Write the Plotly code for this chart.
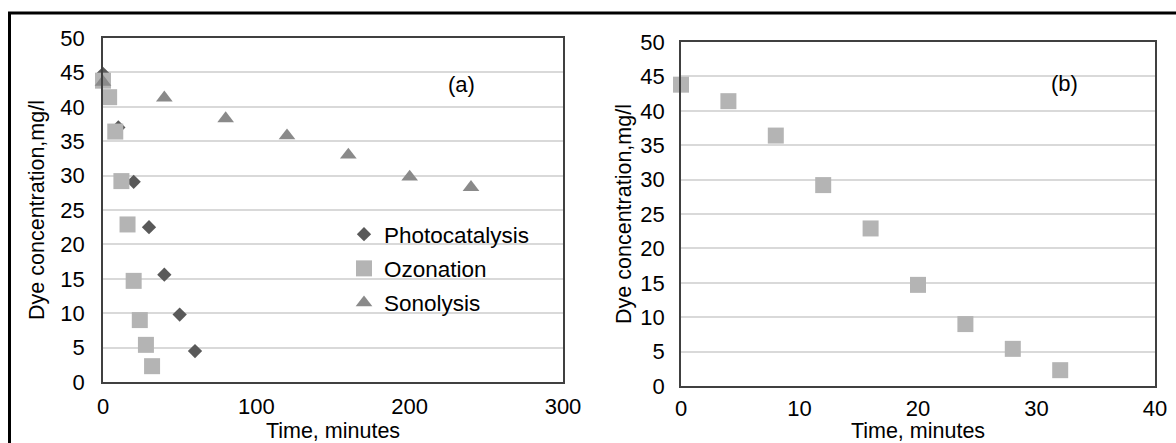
import plotly.graph_objects as go

# ---- data ----
photo_t = [0, 10, 20, 30, 40, 50, 60]
photo_c = [44.8, 37.0, 29.1, 22.5, 15.6, 9.8, 4.5]

ozone_t = [0, 4, 8, 12, 16, 20, 24, 28, 32]
ozone_c = [43.8, 41.4, 36.4, 29.2, 22.9, 14.7, 9.0, 5.4, 2.3]

sono_t = [0, 40, 80, 120, 160, 200, 240]
sono_c = [43.6, 41.3, 38.3, 35.8, 33.0, 29.8, 28.3]

series_names = ["Photocatalysis", "Ozonation", "Sonolysis"]
x_title = "Time, minutes"
y_title = "Dye concentration,mg/l"
panel_labels = ["(a)", "(b)"]

FONT = "Arial, Liberation Sans, sans-serif"
C_PHOTO = "#595959"
C_OZONE = "#b4b4b4"
C_SONO = "#8a8a8a"

W, H = 1176, 443
FS = 22

def px_x(p):
    return p / W

def px_y(p):
    return 1 - p / H

fig = go.Figure()

fig.add_trace(go.Scatter(x=photo_t, y=photo_c, mode="markers", name=series_names[0],
                         legendgroup="g1",
                         marker=dict(symbol="diamond", size=11, color=C_PHOTO),
                         cliponaxis=False, xaxis="x", yaxis="y"))
fig.add_trace(go.Scatter(x=ozone_t, y=ozone_c, mode="markers", name=series_names[1],
                         legendgroup="g2",
                         marker=dict(symbol="square", size=16, color=C_OZONE),
                         cliponaxis=False, xaxis="x", yaxis="y"))
fig.add_trace(go.Scatter(x=sono_t, y=sono_c, mode="markers", name=series_names[2],
                         legendgroup="g3",
                         marker=dict(symbol="triangle-up", size=14.5, color=C_SONO),
                         cliponaxis=False, xaxis="x", yaxis="y"))
fig.add_trace(go.Scatter(x=ozone_t, y=ozone_c, mode="markers", name=series_names[1],
                         marker=dict(symbol="square", size=16, color=C_OZONE),
                         cliponaxis=False, showlegend=False, xaxis="x2", yaxis="y2"))

tickfont = dict(family=FONT, size=FS, color="black")
titlefont = dict(family=FONT, size=21.5, color="black")
base = dict(showline=True, linecolor="#404040", linewidth=1.5, mirror=True,
            ticks="", zeroline=False, automargin=False,
            tickfont=tickfont)

fig.update_layout(
    template="none",
    width=W, height=H,
    margin=dict(l=0, r=0, t=0, b=0),
    paper_bgcolor="white", plot_bgcolor="white",
    font=dict(family=FONT, size=FS, color="black"),
    showlegend=True,
    legend=dict(x=px_x(344), y=px_y(213), xanchor="left", yanchor="top",
                bgcolor="rgba(0,0,0,0)", borderwidth=0,
                font=dict(family=FONT, size=22.5, color="black"),
                itemwidth=30, tracegroupgap=2),
    xaxis=dict(domain=[px_x(103), px_x(563)], anchor="y", range=[0, 300], dtick=100,
               showgrid=False, ticklabelstandoff=4,
               title=dict(text=x_title, standoff=3, font=titlefont), **base),
    yaxis=dict(domain=[px_y(382), px_y(38)], anchor="x", range=[0, 50], dtick=5,
               showgrid=True, gridcolor="#d9d9d9", gridwidth=1.5, ticklabelstandoff=12,
               title=dict(text=y_title, standoff=10, font=titlefont), **base),
    xaxis2=dict(domain=[px_x(681), px_x(1155)], anchor="y2", range=[0, 40], dtick=10,
                showgrid=False, ticklabelstandoff=2,
                title=dict(text=x_title, standoff=3, font=titlefont), **base),
    yaxis2=dict(domain=[px_y(386), px_y(42)], anchor="x2", range=[0, 50], dtick=5,
                showgrid=True, gridcolor="#d9d9d9", gridwidth=1.5, ticklabelstandoff=10,
                title=dict(text=y_title, standoff=3, font=titlefont), **base),
    annotations=[
        dict(text=panel_labels[0], x=234, y=43.3, xref="x", yref="y", showarrow=False,
             font=dict(family=FONT, size=FS, color="black")),
        dict(text=panel_labels[1], x=32.4, y=44.0, xref="x2", yref="y2", showarrow=False,
             font=dict(family=FONT, size=FS, color="black")),
    ],
    shapes=[
        dict(type="line", xref="paper", yref="paper", x0=px_x(8), x1=1, y0=px_y(13), y1=px_y(13),
             line=dict(color="black", width=3)),
        dict(type="line", xref="paper", yref="paper", x0=px_x(9.5), x1=px_x(9.5), y0=px_y(12), y1=0,
             line=dict(color="black", width=3)),
    ],
)

fig.write_html("out.html")
